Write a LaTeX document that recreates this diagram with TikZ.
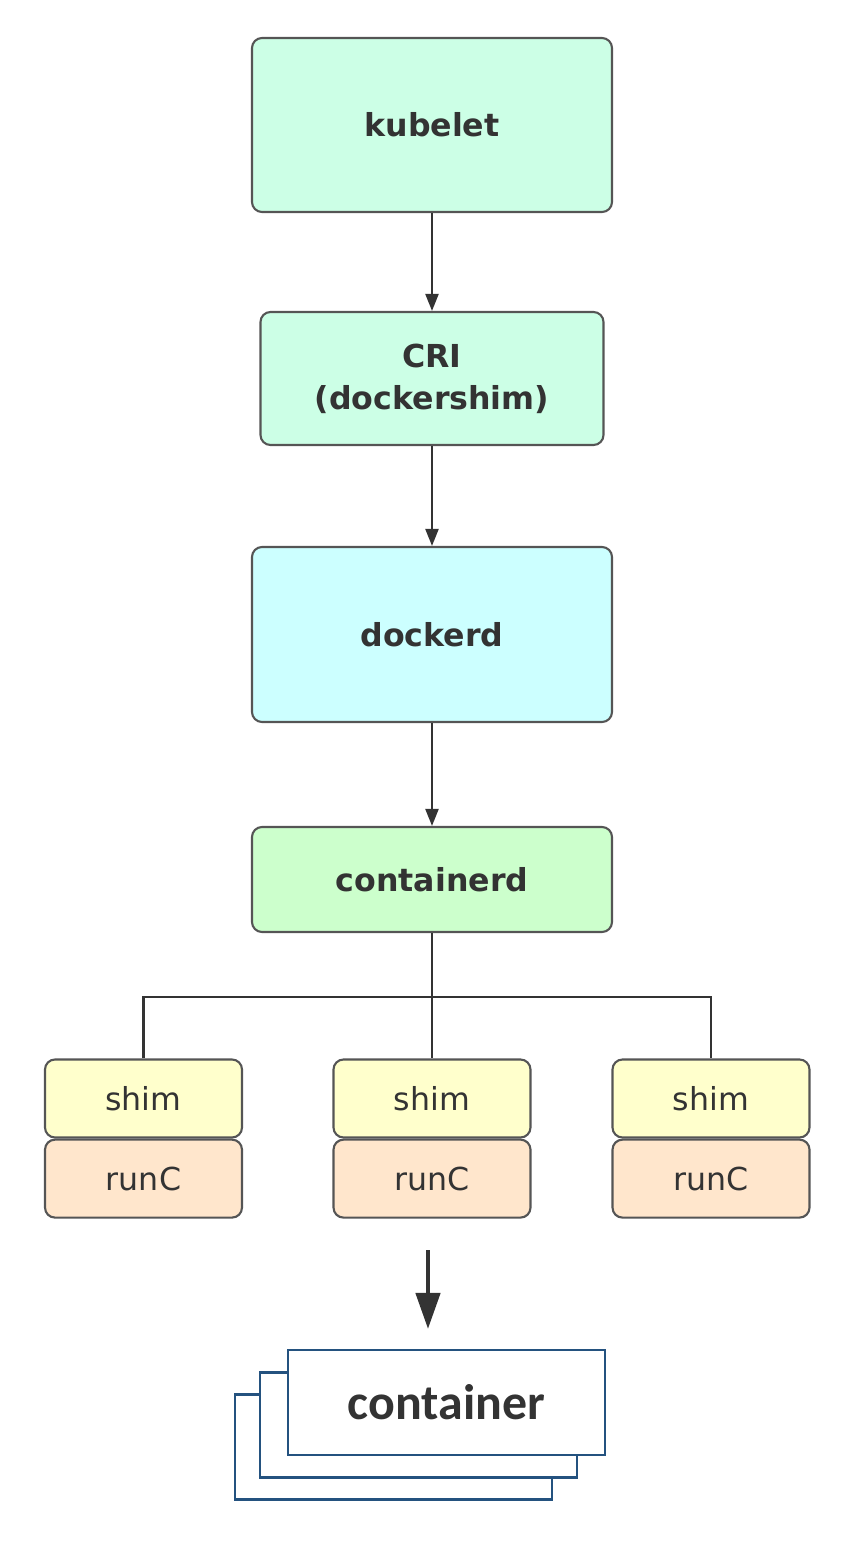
\documentclass[tikz,border=0pt]{standalone}
\usepackage{fontspec}
\setmainfont{DejaVu Sans}
\newfontfamily\ctrfont{Carlito}
\usetikzlibrary{positioning, arrows.meta}
\definecolor{mint}{HTML}{CCFFE6}
\definecolor{aqua}{HTML}{CCFFFF}
\definecolor{lgreen}{HTML}{CCFFCC}
\definecolor{lyellow}{HTML}{FFFFCC}
\definecolor{peach}{HTML}{FFE6CC}
\definecolor{edge}{HTML}{555555}
\definecolor{ink}{HTML}{333333}
\definecolor{ctrblue}{HTML}{24527F}
\tikzset{
  layer/.style={draw=edge, line width=0.6pt, rounded corners=0.1cm, align=center,
    text=ink, font=\fontsize{9}{12}\selectfont\bfseries, inner sep=0pt},
  small/.style={draw=edge, line width=0.6pt, rounded corners=0.1cm, text=ink,
    minimum width=1.97cm, minimum height=0.78cm, inner sep=0pt,
    font=\fontsize{9}{11}\selectfont},
  card/.style={draw=ctrblue, line width=0.6pt, fill=white, minimum width=3.17cm,
    minimum height=1.05cm, inner sep=0pt},
  link/.style={draw=ink, line width=0.6pt},
  flow/.style={link, -{Triangle[length=0.17cm, width=0.13cm]}}
}

\begin{document}
\begin{tikzpicture}
\useasboundingbox (0,0) rectangle (8.65,-15.58);
\node[layer, fill=mint, minimum width=3.6cm, minimum height=1.74cm] (kubelet) at (4.32,-1.25) {kubelet};
\node[layer, fill=mint, minimum width=3.43cm, minimum height=1.33cm] (cri) at (4.32,-3.785) {CRI\\(dockershim)};
\node[layer, fill=aqua, minimum width=3.6cm, minimum height=1.75cm] (dockerd) at (4.32,-6.345) {dockerd};
\node[layer, fill=lgreen, minimum width=3.6cm, minimum height=1.05cm] (containerd) at (4.32,-8.795) {containerd};
\draw[flow] (kubelet) -- (cri);
\draw[flow] (cri) -- (dockerd);
\draw[flow] (dockerd) -- (containerd);
% shim + runC per container
\foreach \i/\x in {1/1.435, 2/4.32, 3/7.11} {
  \node[small, fill=lyellow] (shim\i) at (\x,-10.985) {shim};
  \node[small, fill=peach, below=0cm of shim\i] (runc\i) {runC};
}
\coordinate (bus) at (4.32,-9.97);
\draw[link] (shim1.north) |- (bus) -| (shim3.north);
\draw[link] (containerd) -- (shim2);
% stacked containers
\node[card] (ctr3) at (3.935,-14.47) {};
\node[card] (ctr2) at (4.185,-14.25) {};
\node[card, font=\ctrfont\fontsize{14.2}{17}\selectfont\bfseries, text=ink] (ctr1) at (4.465,-14.025) {container};
\coordinate (start) at (4.28,-12.5);
\draw[draw=ink, line width=1.3pt, -{Triangle[length=0.36cm, width=0.24cm]}, shorten >=0.2cm] (start) -- (start |- ctr1.north);
\end{tikzpicture}
\end{document}
